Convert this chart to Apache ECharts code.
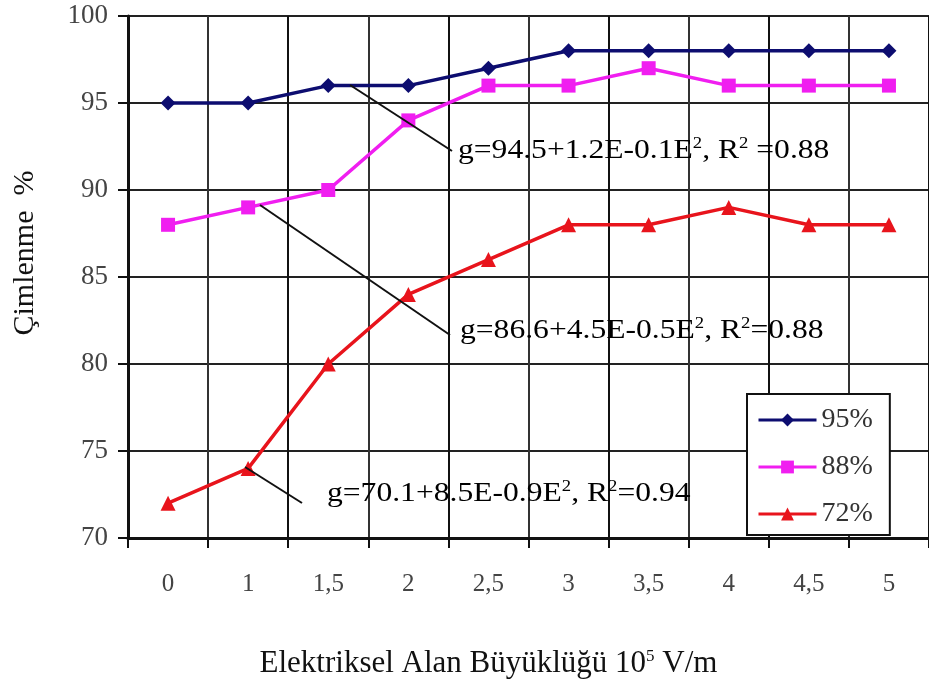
<!DOCTYPE html>
<html>
<head>
<meta charset="utf-8">
<script src="https://cdn.jsdelivr.net/npm/echarts@6/dist/echarts.min.js"></script>
<style>
    html, body { margin: 0; padding: 0; background: #fff; }
    #chart { width: 929px; height: 682px; }
</style>
</head>
<body>
<div id="chart"></div>
<script>
// field strength categories (10^5 V/m)
var categories = ['0', '1', '1,5', '2', '2,5', '3', '3,5', '4', '4,5', '5'];
var seriesNames = ['95%', '88%', '72%'];
var germ95 = [95, 95, 96, 96, 97, 98, 98, 98, 98, 98];
var germ88 = [88, 89, 90, 94, 96, 96, 97, 96, 96, 96];
var germ72 = [72, 74, 80, 84, 86, 88, 88, 89, 88, 88];
var yTicks = { min: 70, max: 100, step: 5 };

var serif = 'Liberation Serif';
var sup = { fontSize: 16, fontFamily: serif, color: '#333', verticalAlign: 'top' };
var base = { fontSize: 27, fontFamily: serif, color: '#333', lineHeight: 30 };

// regression labels, stretched a little sideways like the scan
function eqText(x, y, str) {
    return {
        type: 'text', x: x, y: y, scaleX: 1.17, z: 20,
        style: { x: 0, y: 0, text: str, rich: { b: base, s: sup }, verticalAlign: 'middle' }
    };
}
function leader(x1, y1, x2, y2) {
    return {
        type: 'line', z: 20,
        shape: { x1: x1, y1: y1, x2: x2, y2: y2 },
        style: { stroke: '#111', lineWidth: 2 }
    };
}

var chart = echarts.init(document.getElementById('chart'));

var option = {
    backgroundColor: '#fff',
    animation: false,
    grid: { left: 128, top: 16, right: 0, bottom: 144, containLabel: false, outerBoundsMode: 'none' },
    legend: {
        orient: 'vertical',
        left: 747, top: 394,
        padding: [12, 17, 7, 10],
        itemWidth: 58, itemHeight: 16, itemGap: 19,
        backgroundColor: '#fff',
        borderColor: '#111', borderWidth: 2,
        lineStyle: { width: 3 },
        textStyle: { fontFamily: serif, fontSize: 28, color: '#333' },
        data: seriesNames
    },
    xAxis: {
        type: 'category',
        data: categories,
        boundaryGap: true,
        name: 'Elektriksel Alan Büyüklüğü 10{s|5} V/m',
        nameLocation: 'middle',
        nameGap: 110,
        nameTextStyle: {
            fontFamily: serif, fontSize: 31, color: '#111',
            padding: [0, 80, 0, 0],
            rich: { s: { fontSize: 17, fontFamily: serif, color: '#111', verticalAlign: 'top' } }
        },
        axisLine: { lineStyle: { color: '#111', width: 3 } },
        axisTick: { show: true, length: 10, lineStyle: { color: '#111', width: 2 } },
        axisLabel: { margin: 34, fontFamily: serif, fontSize: 25, color: '#444' },
        splitLine: { show: true, lineStyle: { color: ['#111', '#333'], width: 2 } }
    },
    yAxis: {
        type: 'value',
        min: yTicks.min, max: yTicks.max, interval: yTicks.step,
        name: 'Çimlenme  %',
        nameLocation: 'middle',
        nameGap: 88,
        nameTextStyle: { fontFamily: serif, fontSize: 30, color: '#111', padding: [0, 0, 0, 48] },
        axisLine: { show: true, lineStyle: { color: '#111', width: 3 } },
        axisTick: { show: true, length: 10, lineStyle: { color: '#111', width: 2 } },
        axisLabel: { margin: 20, fontFamily: serif, fontSize: 27, color: '#444' },
        splitLine: { show: true, lineStyle: { color: '#222', width: 2 } }
    },
    series: [
        {
            name: seriesNames[0], type: 'line', data: germ95,
            symbol: 'diamond', symbolSize: 15,
            lineStyle: { color: '#0d0d70', width: 3.5 },
            itemStyle: { color: '#0d0d70' }, z: 5
        },
        {
            name: seriesNames[1], type: 'line', data: germ88,
            symbol: 'rect', symbolSize: 14,
            lineStyle: { color: '#f01ef0', width: 3.5 },
            itemStyle: { color: '#f01ef0' }, z: 4
        },
        {
            name: seriesNames[2], type: 'line', data: germ72,
            symbol: 'triangle', symbolSize: 15,
            lineStyle: { color: '#e8141c', width: 3.5 },
            itemStyle: { color: '#e8141c' }, z: 3
        }
    ],
    graphic: [
        leader(350, 85, 452, 151),
        leader(260, 205, 450, 335),
        leader(245, 467, 302, 503),
        eqText(458, 151, '{b|g=94.5+1.2E-0.1E}{s|2}{b|, R}{s|2}{b| =0.88}'),
        eqText(460, 331, '{b|g=86.6+4.5E-0.5E}{s|2}{b|, R}{s|2}{b|=0.88}'),
        eqText(327, 494, '{b|g=70.1+8.5E-0.9E}{s|2}{b|, R}{s|2}{b|=0.94}')
    ]
};

chart.setOption(option);
window.addEventListener('resize', function () {
    chart.resize();
});
</script>
</body>
</html>
